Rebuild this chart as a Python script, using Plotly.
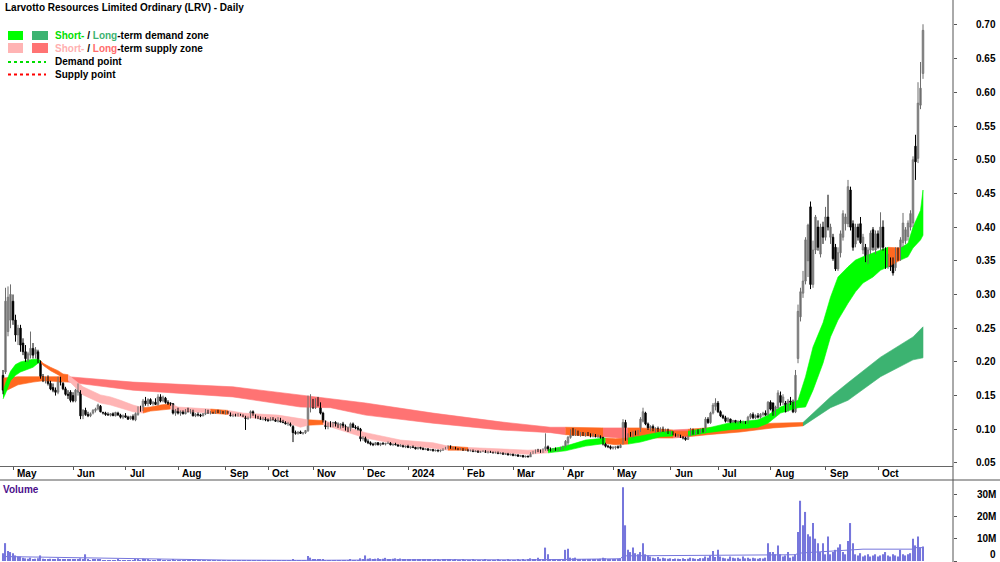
import plotly.graph_objects as go

TITLE = "Larvotto Resources Limited Ordinary (LRV) - Daily"
MONTH_BARS = [4, 28, 49, 70, 89, 106, 124, 144, 162, 184, 204, 224, 244, 267, 286, 307, 329, 350]
MONTH_LABELS = ["May", "Jun", "Jul", "Aug", "Sep", "Oct", "Nov", "Dec", "2024", "Feb",
                "Mar", "Apr", "May", "Jun", "Jul", "Aug", "Sep", "Oct"]
PRICE_TICKS = [0.05, 0.10, 0.15, 0.20, 0.25, 0.30, 0.35, 0.40, 0.45, 0.50, 0.55, 0.60, 0.65, 0.70]
VOL_TICKS = [0, 10e6, 20e6, 30e6]
VOL_TICK_TEXT = ["0", "10M", "20M", "30M"]

# daily prices in cents
OPEN = [
 18.0,18.5,24.5,26.2,29.0,26.2,24.0,25.0,22.8,21.5, 20.3,21.0,22.0,21.2,21.5,20.0,17.8,17.2,17.5,16.8,
 16.2,15.8,15.5,17.5,16.8,16.0,15.2,15.5,15.0,14.2, 15.5,15.5,12.0,12.8,12.2,12.0,12.4,12.8,13.0,13.4,
 12.5,12.4,12.2,12.1,12.3,12.0,12.4,12.1,11.8,12.0, 11.8,11.6,11.9,11.4,12.2,13.0,12.9,14.2,13.8,14.4,
 13.8,14.0,13.7,14.8,14.2,14.6,14.0,13.9,13.8,12.4, 12.8,12.4,12.6,12.3,12.9,12.6,12.8,12.0,12.2,12.1,
 12.0,12.3,12.8,12.4,12.5,12.4,12.7,12.5,12.6,12.4, 12.6,12.4,12.0,12.2,12.0,12.2,12.1,11.9,11.6,11.8,
 12.6,12.0,11.8,11.7,11.5,11.6,11.4,11.3,11.7,11.4, 11.2,11.6,11.1,11.0,10.8,10.9,10.4,9.5,9.4,9.6,
 9.4,9.5,9.8,13.5,14.3,13.2,14.2,13.6,12.4,11.2, 10.4,10.8,10.5,11.0,10.6,10.3,10.8,10.4,10.0,9.9,
 10.8,10.3,10.2,10.0,8.6,8.8,8.2,8.0,7.8,7.7, 8.0,7.7,7.9,7.8,7.9,8.0,7.7,7.8,7.7,7.5,
 7.6,7.4,7.5,7.3,7.4,7.3,7.1,7.3,7.2,7.0, 7.1,6.9,7.0,6.8,6.9,6.8,6.9,7.1,7.3,7.5,
 7.2,7.3,7.1,7.0,7.1,6.9,7.0,6.8,6.9,6.7, 6.8,6.6,6.7,6.8,6.6,6.7,6.6,6.5,6.6,6.4,
 6.5,6.3,6.4,6.2,6.3,6.1,6.2,6.0,6.1,5.9, 6.0,5.9,6.5,6.6,6.9,6.8,6.7,7.0,7.4,7.0,
 6.9,7.1,6.9,7.0,7.2,7.4,8.0,8.8,9.6,9.2, 9.7,9.2,9.4,9.1,9.3,9.1,9.0,9.2,8.9,9.0,
 8.8,7.8,7.5,7.4,7.2,7.3,7.4,7.3,7.8,11.0, 8.6,9.2,9.0,9.5,9.3,9.8,11.2,12.4,10.8,10.2,
 10.4,9.9,10.1,9.8,10.0,9.7,9.9,9.5,9.6,9.2, 9.0,9.1,8.8,8.7,8.5,9.1,9.8,9.4,9.6,9.5,
 9.9,9.7,11.5,11.0,12.4,13.4,13.9,12.6,12.0,11.7, 11.2,11.5,11.0,11.3,11.0,11.2,11.0,11.1,10.9,11.8,
 12.2,11.7,12.0,11.8,12.2,12.4,12.2,14.0,13.9,12.2, 13.2,15.0,14.0,13.9,12.8,14.2,14.0,12.6,20.5,26.7,
 30.2,32.0,35.0,43.0,31.5,36.6,40.0,36.0,40.0,38.5, 41.5,38.5,38.5,37.0,33.8,36.2,38.5,40.5,40.5,45.5,
 40.5,37.5,40.0,40.5,36.6,37.0,35.1,36.6,39.6,36.6, 39.0,37.0,40.0,36.6,34.1,35.1,35.1,34.0,36.6,35.6,
 37.7,38.0,38.6,40.0,40.6,52.0,50.2,58.1,62.8]
HIGH = [
 18.8,31.0,31.2,31.5,30.0,27.0,25.5,25.5,23.5,22.5, 21.5,24.5,22.8,22.2,21.8,20.2,18.2,17.8,18.0,17.2,
 16.8,16.2,17.8,17.8,17.0,16.3,15.8,15.8,15.5,16.0, 16.8,15.8,13.0,13.2,12.6,12.5,13.0,13.2,13.8,13.6,
 12.6,12.6,12.5,12.4,12.5,12.6,12.6,12.3,12.2,12.4, 12.0,12.0,12.2,12.5,13.4,13.5,14.5,14.8,14.6,14.6,
 14.2,14.6,15.2,15.2,15.0,14.8,14.3,14.0,13.9,13.0, 13.2,12.8,12.8,13.0,13.2,13.0,12.9,12.4,12.5,12.3,
 12.4,13.0,12.9,12.7,12.6,12.8,12.9,12.8,12.7,12.8, 12.7,12.5,12.3,12.3,12.4,12.3,12.2,12.0,11.9,12.8,
 12.8,12.2,12.0,11.9,11.8,11.8,11.6,11.8,11.8,11.6, 11.8,11.7,11.4,11.2,11.1,11.0,10.6,9.8,9.7,9.8,
 9.6,9.9,15.0,15.2,14.5,14.6,14.8,14.0,12.6,11.3, 11.0,11.2,11.1,11.2,11.0,10.9,11.1,10.7,10.4,11.0,
 11.0,10.6,10.5,10.2,9.0,8.9,8.5,8.2,8.0,8.1, 8.1,8.0,8.1,8.0,8.2,8.1,7.9,8.0,7.8,7.8,
 7.7,7.6,7.7,7.5,7.6,7.4,7.4,7.4,7.3,7.2, 7.2,7.1,7.1,7.0,7.0,7.0,7.2,7.4,7.6,7.6,
 7.4,7.4,7.2,7.2,7.2,7.1,7.1,7.0,7.0,6.9, 6.9,6.8,6.9,6.9,6.8,6.8,6.7,6.7,6.7,6.6,
 6.6,6.5,6.5,6.4,6.4,6.3,6.3,6.2,6.2,6.1, 6.1,6.6,6.8,7.0,7.1,7.0,7.2,9.4,7.6,7.3,
 7.2,7.3,7.2,7.4,7.6,8.4,9.0,10.0,10.2,10.0, 9.8,9.6,9.6,9.5,9.6,9.4,9.4,9.3,9.2,9.1,
 8.9,8.0,7.7,7.6,7.5,7.5,7.6,7.8,11.5,11.4, 9.4,9.6,9.7,9.8,9.9,11.8,13.2,12.6,11.0,10.6,
 10.7,10.3,10.4,10.3,10.4,10.1,10.1,9.8,9.7,9.4, 9.3,9.2,9.0,8.9,9.2,10.2,10.1,9.8,10.0,10.1,
 10.2,11.8,11.8,12.6,13.9,14.6,14.2,12.8,12.2,12.0, 11.8,11.6,11.4,11.4,11.3,11.4,11.3,11.2,12.0,12.4,
 12.5,12.2,12.4,12.4,12.6,12.8,14.2,14.3,14.0,13.5, 15.8,15.6,15.2,14.2,14.5,14.8,14.4,18.8,28.5,31.0,
 33.5,38.5,40.5,43.8,38.0,41.8,41.0,40.5,40.8,43.0, 44.8,40.5,39.0,37.5,37.0,39.5,42.5,42.0,47.0,46.0,
 41.0,40.5,40.5,41.5,39.0,37.5,37.0,39.5,40.0,39.5, 39.5,42.2,41.0,37.0,36.0,35.5,35.5,37.0,37.0,38.5,
 42.1,40.0,41.0,42.5,50.5,53.7,61.5,64.5,70.1]
LOW = [
 15.2,18.2,23.8,25.0,25.5,23.0,22.5,21.5,21.0,20.0, 20.0,20.5,20.5,20.5,19.8,17.5,17.0,16.8,16.5,15.8,
 15.5,15.0,15.2,16.5,15.8,15.0,14.5,14.0,14.0,14.0, 15.0,11.5,11.5,12.0,11.8,11.8,12.2,12.5,12.8,12.5,
 12.2,12.0,12.0,11.9,12.0,11.9,12.0,11.6,11.5,11.7, 11.4,11.4,11.3,11.2,12.0,12.6,12.7,13.5,13.4,13.6,
 13.5,13.6,13.5,14.0,14.0,13.8,13.6,13.5,12.2,12.0, 12.2,12.0,12.2,12.2,12.5,12.3,11.9,11.8,11.9,11.8,
 11.9,12.1,12.3,12.2,12.3,12.3,12.4,12.3,12.3,12.2, 12.3,11.9,11.8,11.9,11.9,12.0,11.8,9.9,11.4,11.6,
 12.0,11.6,11.5,11.4,11.3,11.2,11.1,11.2,11.3,11.1, 11.0,11.0,10.9,10.7,10.5,10.4,8.1,9.2,9.2,9.3,
 9.2,9.3,9.6,12.5,13.0,13.0,13.4,12.2,11.0,10.0, 10.0,10.3,10.3,10.4,10.2,10.1,10.2,9.8,9.6,9.7,
 10.2,10.0,9.8,8.2,8.3,8.0,7.8,7.6,7.5,7.6, 7.6,7.5,7.7,7.6,7.8,7.6,7.5,7.6,7.4,7.4,
 7.3,7.2,7.2,7.1,7.2,7.0,7.0,7.0,6.9,6.9, 6.8,6.8,6.7,6.7,6.6,6.6,6.8,7.0,7.1,7.1,
 7.0,7.0,6.9,6.9,6.8,6.8,6.7,6.7,6.6,6.6, 6.5,6.5,6.6,6.5,6.4,6.5,6.4,6.4,6.3,6.3,
 6.2,6.2,6.1,6.1,6.0,6.0,5.9,5.9,5.8,5.8, 5.8,5.9,6.3,6.4,6.6,6.5,6.5,6.8,6.8,6.7,
 6.7,6.8,6.7,6.9,7.0,7.3,7.6,8.6,9.0,9.0, 9.0,8.9,9.0,8.9,9.0,8.8,8.8,8.8,8.7,8.6,
 7.6,7.3,7.2,7.0,7.0,7.0,7.1,7.2,7.8,8.3, 8.4,8.9,8.8,9.1,9.1,9.6,11.0,10.6,9.9,9.7,
 9.7,9.5,9.6,9.5,9.6,9.5,9.3,9.2,9.1,8.9, 8.8,8.7,8.5,8.3,8.4,9.0,9.2,9.2,9.3,9.4,
 9.5,9.6,10.8,10.8,12.2,12.8,12.4,11.8,11.5,11.0, 11.0,10.9,10.9,10.9,10.8,10.9,10.8,10.8,10.8,11.5,
 11.5,11.5,11.6,11.6,11.9,12.0,12.0,12.8,12.0,12.0, 13.0,13.5,13.6,12.5,12.6,13.6,12.4,12.4,19.8,26.0,
 29.5,31.5,32.6,30.8,31.0,36.0,36.5,35.5,37.5,38.0, 39.5,37.5,35.0,33.5,33.5,35.5,38.0,39.5,40.0,39.5,
 36.5,37.0,38.0,37.5,36.0,34.8,34.5,36.0,36.5,36.0, 36.8,36.5,36.5,33.8,33.8,33.5,32.8,33.5,35.0,35.0,
 37.0,37.5,38.0,39.5,40.0,47.0,49.5,57.5,62.0]
CLOSE = [
 15.8,29.0,29.6,30.0,26.2,24.0,25.0,22.5,21.5,20.5, 21.2,22.0,21.0,21.8,20.0,17.8,17.2,17.5,16.8,16.0,
 15.8,15.5,17.5,17.0,16.0,15.2,15.0,14.3,14.2,15.8, 16.2,12.0,12.8,12.2,12.0,12.3,12.8,13.0,13.6,12.6,
 12.4,12.2,12.1,12.3,12.0,12.5,12.1,11.8,12.0,11.8, 11.5,11.9,11.5,12.3,13.2,12.8,14.2,13.8,14.4,13.8,
 14.0,13.7,14.8,14.2,14.8,14.0,13.8,13.8,12.4,12.8, 12.4,12.6,12.3,12.9,12.6,12.8,12.0,12.2,12.1,12.0,
 12.3,12.8,12.4,12.5,12.4,12.7,12.5,12.6,12.4,12.6, 12.4,12.0,12.2,12.0,12.2,12.1,11.9,11.6,11.8,12.6,
 12.2,11.8,11.7,11.5,11.6,11.4,11.3,11.7,11.4,11.2, 11.6,11.1,11.0,10.8,10.9,10.6,9.5,9.4,9.6,9.4,
 9.5,9.8,13.5,14.3,13.2,14.2,13.6,12.4,11.2,10.4, 10.8,10.5,11.0,10.6,10.3,10.8,10.4,10.0,9.9,10.8,
 10.3,10.2,10.0,8.6,8.8,8.2,8.0,7.8,7.7,8.0, 7.7,7.9,7.8,7.9,8.0,7.7,7.8,7.7,7.5,7.6,
 7.4,7.5,7.3,7.4,7.3,7.1,7.3,7.2,7.0,7.1, 6.9,7.0,6.8,6.9,6.8,6.9,7.1,7.3,7.5,7.2,
 7.3,7.1,7.0,7.1,6.9,7.0,6.8,6.9,6.7,6.8, 6.6,6.7,6.8,6.6,6.7,6.6,6.5,6.6,6.4,6.5,
 6.3,6.4,6.2,6.3,6.1,6.2,6.0,6.1,5.9,6.0, 5.9,6.5,6.6,6.9,6.8,6.7,7.0,7.4,7.0,6.9,
 7.1,6.9,7.0,7.2,7.4,8.2,8.8,9.6,9.2,9.7, 9.2,9.4,9.1,9.3,9.1,9.0,9.2,8.9,9.0,8.8,
 7.8,7.5,7.4,7.2,7.3,7.4,7.3,7.6,11.0,8.6, 9.2,9.0,9.5,9.3,9.8,11.5,12.6,10.8,10.2,10.4,
 9.9,10.1,9.8,10.0,9.7,9.9,9.5,9.6,9.2,9.0, 9.1,8.8,8.7,8.5,9.1,9.8,9.4,9.6,9.5,9.9,
 9.7,11.5,11.0,12.4,13.6,13.9,12.6,12.0,11.7,11.2, 11.6,11.0,11.3,11.0,11.2,11.0,11.1,10.9,11.8,12.2,
 11.7,12.0,11.8,12.2,12.4,12.1,14.0,13.0,12.2,13.3, 15.4,14.0,14.8,12.6,14.2,14.0,12.6,18.0,27.5,30.4,
 32.0,38.1,40.3,31.5,36.6,41.5,37.0,40.0,38.5,41.5, 40.0,40.0,35.3,33.8,36.2,39.0,42.0,41.5,46.0,40.0,
 37.0,40.0,38.5,37.7,38.5,35.1,36.6,39.1,37.0,39.0, 37.0,40.0,37.0,34.1,35.1,34.1,33.2,36.6,35.6,38.1,
 40.6,39.6,40.6,42.0,50.0,49.7,58.4,60.6,69.2]

# daily volume, millions of shares
VOLUME = [
 3.5,8.0,4.5,4.0,3.5,2.5,2.0,2.0,1.5,1.2, 1.0,1.5,0.8,1.0,1.2,2.5,1.0,0.8,0.7,1.0,
 0.6,0.8,1.2,0.5,0.6,0.5,0.6,0.9,0.7,0.8, 0.9,1.2,0.6,3.0,0.5,0.4,0.6,0.5,0.8,0.5,
 0.3,0.4,0.3,0.3,0.4,0.3,0.5,0.3,0.4,0.3, 0.3,0.2,0.3,0.6,0.8,0.4,1.0,0.5,0.6,0.4,
 0.3,0.3,0.9,0.5,0.4,0.3,0.2,0.3,0.6,0.3, 0.2,0.2,0.3,0.2,0.2,0.1,0.3,0.2,0.1,0.2,
 0.1,0.3,0.2,0.1,0.2,0.1,0.2,0.1,0.1,0.1, 0.1,0.2,0.1,0.1,0.1,0.1,0.1,0.3,0.1,0.2,
 0.1,0.1,0.1,0.1,0.1,0.1,0.1,0.2,0.1,0.1, 0.2,0.1,0.1,0.1,0.2,0.1,0.6,0.1,0.1,0.1,
 0.1,0.2,2.2,1.5,0.8,0.6,0.5,0.8,0.6,0.4, 0.3,0.3,0.4,0.3,0.3,0.3,0.2,0.3,0.4,0.5,
 0.3,0.3,0.4,1.2,0.8,2.5,1.0,1.2,0.8,1.0, 1.2,0.8,1.0,1.4,0.9,0.8,1.0,1.2,0.7,1.1,
 0.8,0.6,0.7,0.9,0.8,0.6,0.5,0.7,0.6,0.5, 0.6,0.5,0.4,0.6,0.5,0.4,0.5,0.6,0.7,0.5,
 0.4,0.5,0.3,0.4,0.5,0.4,0.3,0.4,0.6,0.4, 0.3,0.4,0.3,0.5,0.4,0.3,0.4,0.3,0.5,0.3,
 0.4,0.3,0.5,0.4,0.3,0.4,0.5,0.3,0.6,0.4, 0.5,1.2,0.8,0.6,1.5,0.9,0.7,6.0,3.0,0.8,
 0.5,0.6,0.4,0.5,0.6,5.0,5.5,1.5,1.2,1.5, 0.8,0.7,0.6,0.5,0.6,0.5,0.7,0.6,0.8,1.0,
 1.5,1.2,0.9,0.8,0.7,0.8,1.0,1.2,33.0,16.0, 5.0,4.0,6.0,3.5,3.0,4.0,8.0,3.0,2.5,2.0,
 1.5,1.2,1.8,1.0,1.5,1.2,1.0,1.2,0.9,1.1, 1.0,0.8,1.2,0.9,1.0,1.5,1.2,1.0,0.9,1.3,
 1.2,2.0,1.5,2.5,4.5,1.8,5.0,2.0,1.5,1.2, 1.0,2.0,1.5,1.2,1.5,1.0,2.0,1.2,1.5,1.0,
 1.5,1.2,1.0,1.3,1.1,1.5,8.0,4.0,4.0,3.0, 7.0,3.0,2.0,2.5,4.0,1.5,2.0,3.0,13.0,27.0,
 16.0,22.0,12.0,11.0,17.0,10.0,8.0,4.0,8.0,3.0, 11.0,3.0,4.0,5.0,6.0,7.5,4.0,3.0,9.0,17.0,
 8.0,3.0,2.5,3.5,2.0,2.5,3.0,2.0,2.5,3.0, 2.0,2.5,3.0,4.0,2.5,2.0,3.0,2.5,2.0,5.0,
 3.0,2.5,3.0,3.5,10.0,7.0,11.0,6.0,6.5]

VOL_MA_BAR = [0, 30, 60, 90, 120, 150, 180, 210, 240, 247, 248, 300, 306, 317, 318, 330, 340, 344, 364, 365, 368]
VOL_MA = [2.0, 1.5, 0.8, 0.4, 0.3, 0.6, 0.6, 0.5, 0.9, 1.0, 2.3, 2.5, 2.8, 2.8, 3.5, 4.2, 5.0, 5.3, 5.3, 6.0, 6.0]

# short-term zone: bar, upper, lower (cents), colour of the stretch that starts there
SHORT_BAR = [0, 1, 3, 5, 7, 10, 12, 14, 15, 16, 19, 22, 24, 26, 32, 39, 43, 47, 52, 56, 59, 63, 67, 70, 83, 90,
             96, 110, 119, 122, 128, 132, 145, 159, 172, 178, 186, 199, 210, 218, 225, 233, 239, 241, 245, 250,
             255, 263, 268, 274, 282, 290, 302, 306, 311, 318, 321, 324, 328, 331, 334, 338, 341, 344, 348, 351,
             354, 359, 362, 364, 367, 368]
SHORT_UP = [15.5, 16.8, 18.6, 19.6, 20.0, 20.3, 20.4, 20.4, 20.2, 19.8, 19.2, 18.7, 18.2, 18.1, 16.3, 15.1, 14.8,
            14.3, 13.6, 13.2, 13.3, 13.6, 13.8, 13.3, 13.0, 12.8, 12.4, 12.1, 11.5, 11.4, 11.3, 10.9, 9.5, 8.4,
            8.0, 7.5, 7.3, 7.1, 6.9, 7.0, 7.5, 8.4, 8.7, 8.7, 8.6, 8.7, 9.0, 9.6, 9.7, 9.7, 10.2, 10.9, 11.4,
            12.1, 13.3, 14.3, 17.8, 22.2, 25.8, 29.6, 32.6, 34.1, 35.1, 35.6, 36.2, 36.6, 37.0, 36.9, 37.6,
            40.0, 42.5, 45.5]
SHORT_LO = [14.5, 15.3, 17.2, 18.0, 18.5, 18.9, 19.2, 19.8, 20.0, 19.5, 18.7, 18.1, 17.6, 17.3, 15.1, 13.9, 13.6,
            13.2, 12.6, 12.4, 12.7, 12.9, 13.0, 12.7, 12.4, 12.2, 11.8, 11.4, 10.3, 10.6, 10.7, 10.2, 8.7, 7.7,
            7.2, 6.9, 6.9, 6.5, 6.3, 6.5, 6.8, 7.5, 7.8, 7.9, 7.7, 7.8, 8.1, 8.9, 9.0, 9.0, 9.5, 9.9, 10.3,
            10.9, 12.4, 13.2, 13.3, 15.8, 19.8, 23.7, 26.2, 28.7, 30.4, 31.7, 32.6, 33.6, 34.1, 35.1, 35.6,
            36.9, 38.1, 38.8]
SHORT_ZONE = ["D", "D", "D", "D", "D", "D", "D", "D", "X", "X", "X", "X", "X", "S", "S", "S", "S", "S", "S", "X",
              "X", "X", "S", "S", "X", "S", "S", "S", "S", "X", "S", "S", "S", "S", "S", "X", "S", "S", "S", "D",
              "D", "D", "D", "X", "X", "D", "D", "D", "X", "D", "D", "D", "D", "D", "D", "D", "D", "D", "D", "D",
              "D", "D", "D", "D", "D", "D", "X", "D", "D", "D", "D", "D"]

# long-term zone
LONG_BAR = [0, 6, 12, 16, 26, 52, 92, 119, 131, 145, 172, 199, 219, 225, 240, 250, 255, 268, 274, 282, 295, 308,
            320, 331, 338, 351, 364, 368]
LONG_UP = [17.6, 17.8, 17.8, 17.8, 17.8, 17.0, 16.3, 15.1, 14.6, 13.9, 12.4, 11.1, 10.3, 10.3, 10.2, 10.2, 10.2,
           9.9, 10.0, 10.2, 10.6, 10.9, 11.0, 14.8, 16.9, 20.7, 23.7, 25.2]
LONG_LO = [15.5, 16.6, 17.0, 17.2, 17.0, 15.8, 14.8, 13.3, 13.2, 12.1, 10.9, 9.9, 9.5, 9.2, 8.9, 8.6, 8.7,
           8.7, 8.9, 9.2, 9.6, 10.2, 10.5, 13.2, 14.3, 17.8, 20.3, 20.6]
LONG_ZONE = ["X", "X", "X", "X", "S", "S", "S", "S", "S", "S", "S", "S", "S", "X", "S", "X", "X", "S", "X", "X",
             "X", "X", "D", "D", "D", "D", "D", "D"]

SHORT_COLORS = {"D": "#00ff00", "S": "#ffb4b4", "X": "#ff6820"}
LONG_COLORS = {"D": "#3cb371", "S": "#ff7373", "X": "#ff6820"}
UP_FILL, UP_LINE = "#a6a6a6", "#6e6e6e"
DOWN_FILL, DOWN_LINE = "#000000", "#000000"

W, H = 1000, 562
FONT = "Liberation Sans, Arial, sans-serif"


def px(x):
    return x / W


def py(y):
    return 1 - y / H


fig = go.Figure()


def add_zone(bars, up, lo, zone, colors):
    n = len(bars)
    i = 0
    while i < n - 1:
        j = i
        while j + 1 < n - 1 and zone[j + 1] == zone[i]:
            j += 1
        seg = range(i, j + 2)
        xs = [bars[k] for k in seg] + [bars[k] for k in reversed(seg)]
        ys = [up[k] / 100 for k in seg] + [lo[k] / 100 for k in reversed(seg)]
        fig.add_trace(go.Scatter(x=xs, y=ys, mode="lines", fill="toself",
                                 fillcolor=colors[zone[i]], line=dict(width=0.6, color=colors[zone[i]]),
                                 hoverinfo="skip", showlegend=False, xaxis="x", yaxis="y"))
        i = j + 1


add_zone(LONG_BAR, LONG_UP, LONG_LO, LONG_ZONE, LONG_COLORS)
add_zone(SHORT_BAR, SHORT_UP, SHORT_LO, SHORT_ZONE, SHORT_COLORS)

# candles: wicks as line segments, bodies as floating bars
n = len(CLOSE)
for is_up, line_col in ((True, UP_LINE), (False, DOWN_LINE)):
    wx, wy = [], []
    for i in range(n):
        if (CLOSE[i] >= OPEN[i]) == is_up:
            wx += [i, i, None]
            wy += [LOW[i] / 100, HIGH[i] / 100, None]
    fig.add_trace(go.Scatter(x=wx, y=wy, mode="lines", line=dict(color=line_col, width=1),
                             hoverinfo="skip", showlegend=False, xaxis="x", yaxis="y"))

body_base = [min(OPEN[i], CLOSE[i]) / 100 for i in range(n)]
body_len = [abs(CLOSE[i] - OPEN[i]) / 100 for i in range(n)]
body_fill = [UP_FILL if CLOSE[i] >= OPEN[i] else DOWN_FILL for i in range(n)]
body_line = [UP_LINE if CLOSE[i] >= OPEN[i] else DOWN_LINE for i in range(n)]
fig.add_trace(go.Bar(x=list(range(n)), y=body_len, base=body_base, width=0.72,
                     marker=dict(color=body_fill, line=dict(color=body_line, width=0.6)),
                     showlegend=False, xaxis="x", yaxis="y"))

fig.add_trace(go.Bar(x=list(range(n)), y=[v * 1e6 for v in VOLUME], width=0.45,
                     marker=dict(color="#7676dc", line=dict(width=0)),
                     showlegend=False, xaxis="x2", yaxis="y2"))
fig.add_trace(go.Scatter(x=VOL_MA_BAR, y=[v * 1e6 for v in VOL_MA], mode="lines",
                         line=dict(color="#7676dc", width=1), showlegend=False,
                         xaxis="x2", yaxis="y2"))

XR = [-1.2, 380.0]
fig.update_layout(
    width=W, height=H, margin=dict(l=0, r=0, t=0, b=0),
    paper_bgcolor="white", plot_bgcolor="white",
    font=dict(family=FONT, size=10, color="black"),
    barmode="overlay",
    xaxis=dict(domain=[0, 0.953], range=XR, tickvals=MONTH_BARS, ticks="outside", ticklen=3,
               tickcolor="#555", showticklabels=False, showgrid=False, zeroline=False,
               showline=True, linecolor="#666", linewidth=1, anchor="y"),
    xaxis2=dict(domain=[0, 0.953], range=XR, matches="x", showticklabels=False, showgrid=False,
                zeroline=False, showline=False, ticks="", anchor="y2"),
    yaxis=dict(domain=[1 - 466 / H, 1], range=[0.0455, 0.737], side="right", tickvals=PRICE_TICKS,
               ticks="outside", ticklen=3, tickcolor="#555", showticklabels=False, showgrid=False,
               zeroline=False, showline=False, anchor="x"),
    yaxis2=dict(domain=[0, 82 / H], range=[-0.45e6, 36.3e6], side="right", tickvals=VOL_TICKS,
                ticks="outside", ticklen=3, tickcolor="#555", showticklabels=False, showgrid=False,
                zeroline=False, showline=False, anchor="x2"),
)

shapes = [
    dict(type="line", xref="paper", yref="paper", x0=px(953), x1=px(953), y0=0, y1=1,
         line=dict(color="#555", width=1)),
    dict(type="line", xref="paper", yref="paper", x0=0, x1=1, y0=py(480), y1=py(480),
         line=dict(color="#555", width=1)),
    # legend swatches
    dict(type="rect", xref="paper", yref="paper", x0=px(8), x1=px(23), y0=py(40), y1=py(31),
         fillcolor="#00ff00", line=dict(width=0)),
    dict(type="rect", xref="paper", yref="paper", x0=px(32), x1=px(48), y0=py(40), y1=py(31),
         fillcolor="#3cb371", line=dict(width=0)),
    dict(type="rect", xref="paper", yref="paper", x0=px(8), x1=px(23), y0=py(53), y1=py(43),
         fillcolor="#ffb4b4", line=dict(width=0)),
    dict(type="rect", xref="paper", yref="paper", x0=px(32), x1=px(48), y0=py(53), y1=py(43),
         fillcolor="#ff7373", line=dict(width=0)),
    dict(type="line", xref="paper", yref="paper", x0=px(8), x1=px(46), y0=py(62), y1=py(62),
         line=dict(color="#00dd00", width=2, dash="dot")),
    dict(type="line", xref="paper", yref="paper", x0=px(8), x1=px(46), y0=py(74.5), y1=py(74.5),
         line=dict(color="#ff0000", width=2, dash="dot")),
]
fig.update_layout(shapes=shapes)

ann = []
BOLD = dict(family=FONT, size=10, color="black", weight="bold")
ann.append(dict(text=TITLE, xref="paper", yref="paper", x=px(3), y=py(7), xanchor="left",
                yanchor="middle", showarrow=False, font=BOLD))
ann.append(dict(text="<span style='color:#00e000'>Short-</span> / <span style='color:#3cb371'>Long</span>-term demand zone",
                xref="paper", yref="paper", x=px(53), y=py(35.5), xanchor="left", yanchor="middle",
                showarrow=False, font=BOLD))
ann.append(dict(text="<span style='color:#ffb0b0'>Short-</span> / <span style='color:#ff6b6b'>Long</span>-term supply zone",
                xref="paper", yref="paper", x=px(53), y=py(48.5), xanchor="left", yanchor="middle",
                showarrow=False, font=BOLD))
ann.append(dict(text="Demand point", xref="paper", yref="paper", x=px(53), y=py(62), xanchor="left",
                yanchor="middle", showarrow=False, font=BOLD))
ann.append(dict(text="Supply point", xref="paper", yref="paper", x=px(53), y=py(75), xanchor="left",
                yanchor="middle", showarrow=False, font=BOLD))
ann.append(dict(text="Volume", xref="paper", yref="paper", x=px(1), y=py(489.5), xanchor="left",
                yanchor="middle", showarrow=False, font=dict(family=FONT, size=10, color="#4b0f8b", weight="bold")))
for b, lab in zip(MONTH_BARS, MONTH_LABELS):
    ann.append(dict(text=lab, xref="x", yref="paper", x=b + 0.8, y=py(473.5), xanchor="left",
                    yanchor="middle", showarrow=False, font=BOLD))
for v in PRICE_TICKS:
    ann.append(dict(text=f"{v:.2f}", xref="paper", yref="y", x=px(998), y=v, xanchor="right",
                    yanchor="middle", showarrow=False, font=BOLD))
for v, t in zip(VOL_TICKS[1:], VOL_TICK_TEXT[1:]):
    ann.append(dict(text=t, xref="paper", yref="y2", x=px(998), y=v, xanchor="right",
                    yanchor="middle", showarrow=False, font=BOLD))
# the zero label sits on the bottom edge; keep it fully inside the page
ann.append(dict(text=VOL_TICK_TEXT[0], xref="paper", yref="y2", x=px(998), y=VOL_TICKS[0], xanchor="right",
                yanchor="bottom", yshift=-1, showarrow=False, font=BOLD))
fig.update_layout(annotations=ann)

fig.write_html("out.html")
